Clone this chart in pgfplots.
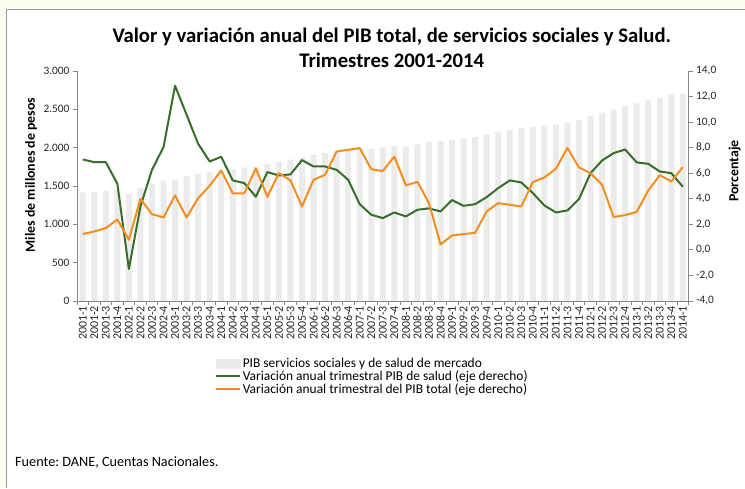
\documentclass[border=0pt]{standalone}
\usepackage{fontspec}
\setmainfont{Carlito}
\usepackage{pgfplots}
\usepackage{pgfplotstable}
\pgfplotsset{compat=1.18}
\definecolor{barcol}{RGB}{235,235,235}
\definecolor{salud}{RGB}{56,110,42}
\definecolor{total}{RGB}{242,142,32}
\definecolor{axgray}{RGB}{134,134,134}
\definecolor{bgcream}{RGB}{253,252,240}
\frenchspacing

\pgfplotstableread{
i bar salud total
0 1413 7.07 1.23
1 1422 6.86 1.43
2 1435 6.86 1.70
3 1445 5.17 2.37
4 1396 -1.51 0.78
5 1474 3.39 3.99
6 1526 6.26 2.79
7 1570 8.04 2.53
8 1574 12.84 4.25
9 1630 10.57 2.53
10 1657 8.30 4.04
11 1678 6.91 5.01
12 1700 7.28 6.21
13 1717 5.43 4.41
14 1739 5.22 4.41
15 1748 4.15 6.37
16 1787 6.08 4.15
17 1813 5.82 6.00
18 1843 5.90 5.43
19 1870 7.02 3.39
20 1904 6.52 5.48
21 1930 6.52 5.87
22 1948 6.26 7.70
23 1970 5.48 7.83
24 1991 3.57 7.96
25 1983 2.74 6.31
26 2004 2.48 6.16
27 2022 2.92 7.30
28 2013 2.61 5.04
29 2048 3.13 5.32
30 2070 3.24 3.65
31 2087 3.00 0.42
32 2100 3.89 1.12
33 2117 3.44 1.23
34 2135 3.57 1.33
35 2170 4.12 3.00
36 2200 4.83 3.65
37 2230 5.43 3.52
38 2252 5.27 3.39
39 2270 4.44 5.30
40 2283 3.47 5.66
41 2296 2.92 6.34
42 2322 3.08 7.98
43 2357 3.97 6.44
44 2413 6.00 6.00
45 2457 6.99 5.09
46 2496 7.57 2.56
47 2543 7.85 2.71
48 2578 6.84 2.97
49 2617 6.73 4.64
50 2652 6.13 5.84
51 2696 6.00 5.35
52 2704 4.93 6.47
}\datatable

\pgfplotsset{
  common/.style={
    scale only axis,
    width=612bp, height=230bp,
    at={(77bp,-301bp)}, anchor=south west,
    xmin=-0.5, xmax=52.5,
    /pgf/number format/assume math mode=true,
    tick label style={font=\fontsize{11.4}{13}\selectfont, text=black!85},
    axis line style={axgray, line width=0.6bp},
    tick style={axgray, line width=0.6bp},
    major tick length=4bp, minor tick length=4bp,
  }
}

\begin{document}
\begin{tikzpicture}
\fill[bgcream] (0bp,0bp) rectangle (745bp,-488bp);
\fill[white] (6bp,-9bp) rectangle (745bp,-488bp);
\draw[black!40, line width=0.8bp] (6bp,-488bp) -- (6bp,-9bp) -- (745bp,-9bp);

\begin{axis}[common,
  axis x line*=bottom, axis y line*=left,
  ymin=0, ymax=3000, ytick={0,500,...,3000},
  yticklabel style={/pgf/number format/1000 sep={.}},
  ytick align=outside, xtick align=outside,
  xtick={0,...,52},
  every major x tick/.style={draw=none},
  minor xtick={-0.5,0.5,...,52.5},
  xticklabels={2001-1,2001-2,2001-3,2001-4,2002-1,2002-2,2002-3,2002-4,2003-1,2003-2,2003-3,2003-4,2004-1,2004-2,2004-3,2004-4,2005-1,2005-2,2005-3,2005-4,2006-1,2006-2,2006-3,2006-4,2007-1,2007-2,2007-3,2007-4,2008-1,2008-2,2008-3,2008-4,2009-1,2009-2,2009-3,2009-4,2010-1,2010-2,2010-3,2010-4,2011-1,2011-2,2011-3,2011-4,2012-1,2012-2,2012-3,2012-4,2013-1,2013-2,2013-3,2013-4,2014-1},
  xticklabel style={rotate=90, anchor=east, font=\fontsize{12}{13}\selectfont, inner sep=1bp},
]
\addplot[ybar, bar width=6bp, fill=barcol, draw=none] table[x=i, y=bar] {\datatable};
\end{axis}

\begin{axis}[common,
  axis x line=none, axis y line*=right,
  ymin=-4, ymax=14, ytick={-4,-2,...,14},
  ytick align=outside,
  yticklabel style={/pgf/number format/.cd, fixed, fixed zerofill, precision=1, use comma},
  legend style={at={(axis description cs:0.225,-0.241)}, anchor=north west,
    draw=none, fill=none, font=\fontsize{13.5}{14}\selectfont, row sep=-2.5bp,
    inner sep=0pt, cells={anchor=west}},
]
\addlegendimage{legend image code/.code={\fill[barcol] (0bp,-4.5bp) rectangle (24bp,4.5bp);}}
\addlegendentry{PIB servicios sociales y de salud de mercado}
\addplot[salud, line width=2bp, line join=round,
  legend image code/.code={\draw[salud, line width=2bp] (0bp,0bp) -- (24bp,0bp);}]
  table[x=i, y=salud] {\datatable};
\addlegendentry{Variación anual trimestral PIB de salud (eje derecho)}
\addplot[total, line width=2bp, line join=round,
  legend image code/.code={\draw[total, line width=2bp] (0bp,0bp) -- (24bp,0bp);}]
  table[x=i, y=total] {\datatable};
\addlegendentry{Variación anual trimestral del PIB total (eje derecho)}
\end{axis}

\node[font=\bfseries\fontsize{20.8}{25}\selectfont, align=center] at (392bp,-48bp)
  {Valor y variación anual del PIB total, de servicios sociales y Salud.\\Trimestres 2001-2014};
\node[font=\bfseries\fontsize{13.9}{15}\selectfont, rotate=90] at (31bp,-175bp) {Miles de millones de pesos};
\node[font=\bfseries\fontsize{13.9}{15}\selectfont, rotate=90] at (735bp,-171bp) {Porcentaje};
\node[font=\fontsize{14.3}{16}\selectfont, anchor=west, inner sep=0pt] at (15bp,-463bp) {Fuente: DANE, Cuentas Nacionales.};
\end{tikzpicture}
\end{document}
